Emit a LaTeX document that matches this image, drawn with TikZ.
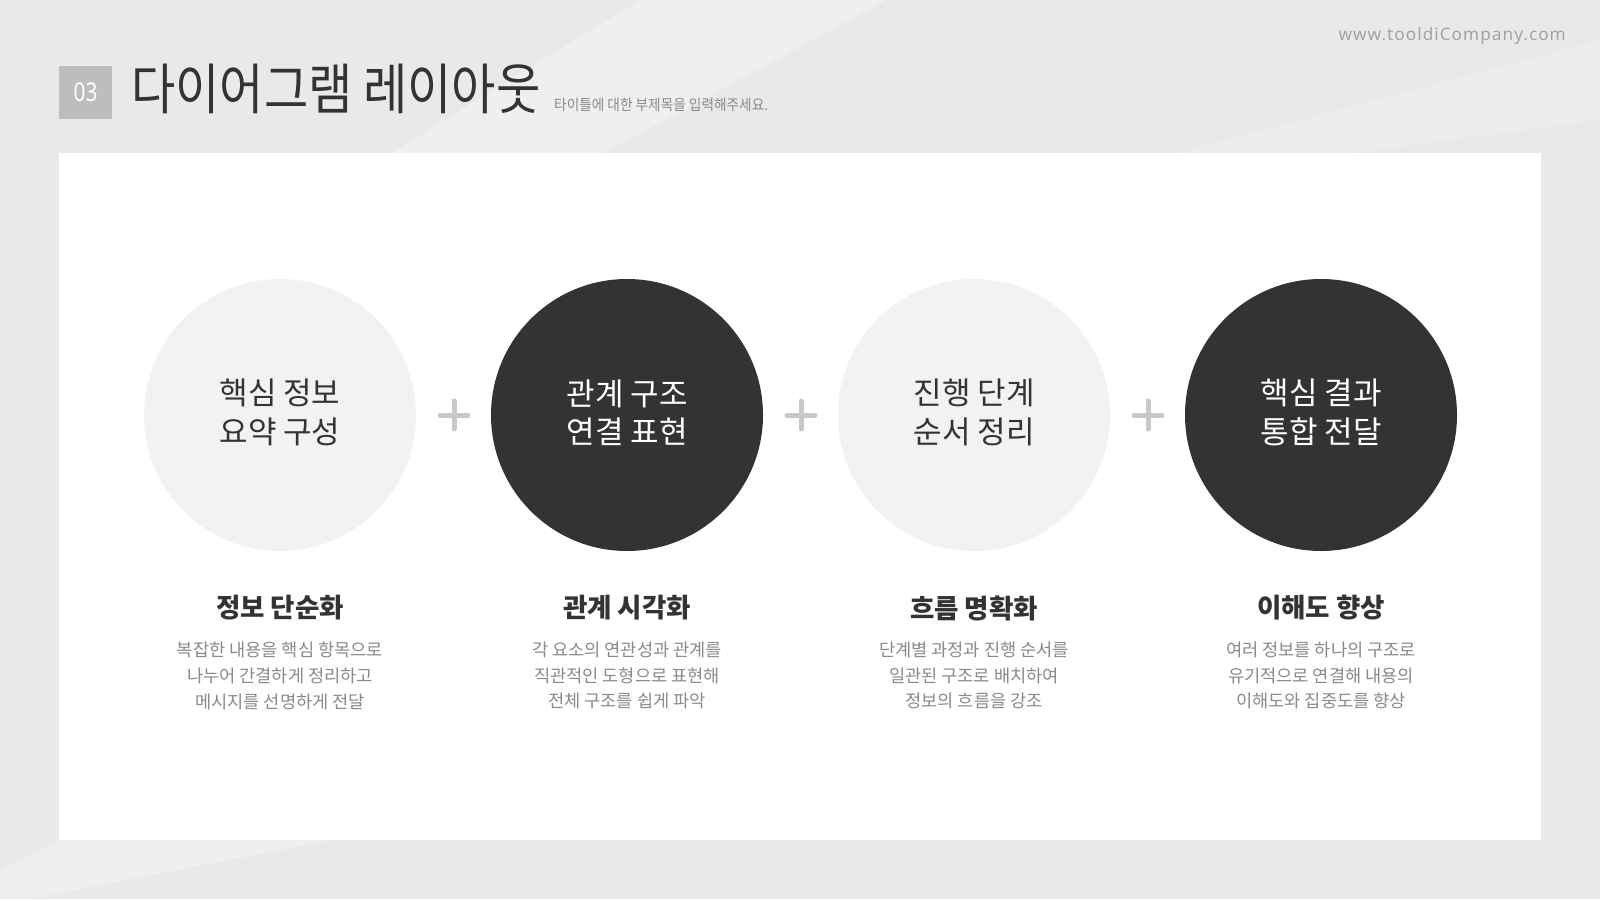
\documentclass[tikz,border=0pt]{standalone}
\usepackage{fontspec}
\newfontfamily\kr{Noto Sans CJK KR}
\newfontfamily\latin{Noto Sans}
\newfontfamily\urlfont{Noto Sans}[LetterSpace=6]
\definecolor{bgc}{HTML}{E9E9E9}
\definecolor{lightc}{HTML}{F2F2F2}
\definecolor{darkc}{HTML}{333333}
\definecolor{plusc}{HTML}{C8C8C8}
\definecolor{descc}{HTML}{8A8A8A}
\definecolor{numbox}{HTML}{BDBDBD}
\definecolor{urlc}{HTML}{A3A3A3}
\begin{document}
\begin{tikzpicture}[x=1pt,y=-1pt,
  lightcirc/.style={circle,fill=lightc,minimum size=272pt,inner sep=0pt},
  darkcirc/.style={circle,fill=darkc,minimum size=272pt,inner sep=0pt},
  circtxt/.style={align=center,inner sep=0pt,yshift=2.5pt,font=\kr\fontsize{31}{38.5}\selectfont},
  headtxt/.style={font=\kr\bfseries\fontsize{26.5}{30}\selectfont,text=darkc,inner sep=0pt},
  desctxt/.style={font=\kr\fontsize{17.6}{25.6}\selectfont,text=descc,align=center,inner sep=0pt},
  plusline/.style={draw=plusc,line width=5pt,line cap=round}]
\useasboundingbox (0,0) rectangle (1600,899);
\fill[bgc] (0,0) rectangle (1600,899);
% subtle light streaks in the background
\fill[white,opacity=0.28] (640,0) -- (886,0) -- (591,160) -- (380,160) -- cycle;
\fill[white,opacity=0.15] (1600,40) -- (1600,120) -- (1300,160) -- (1150,160) -- cycle;
\fill[white,opacity=0.3] (0,899) -- (30,899) -- (330,840) -- (59,840) -- (0,870) -- cycle;
% white panel
\node[fill=white,minimum width=1482pt,minimum height=687pt,inner sep=0pt,anchor=north west] (panel) at (59,153) {};
% header
\node[fill=numbox,minimum width=53pt,minimum height=53pt,inner sep=0pt,text=white,font=\latin\fontsize{26}{30}\selectfont] (num) at (85.5,92.5) {\scalebox{0.8}[1]{03}};
\node[anchor=west,inner sep=0pt,text=darkc,font=\kr\fontsize{55}{60}\selectfont] (title) at (131,89) {\scalebox{0.875}[1]{다이어그램 레이아웃}};
\node[anchor=west,inner sep=0pt,text=descc,font=\kr\fontsize{15}{17}\selectfont] (sub) at (554,105) {\scalebox{0.91}[1]{타이틀에 대한 부제목을 입력해주세요.}};
\node[anchor=east,inner sep=0pt,text=urlc,font=\urlfont\fontsize{17.2}{20}\selectfont] (url) at (1566,36) {www.tooldiCompany.com};
% circles
\node[lightcirc] (c1) at (280,415) {};
\node[darkcirc]  (c2) at (627,415) {};
\node[lightcirc] (c3) at (974,415) {};
\node[darkcirc]  (c4) at (1321,415) {};
\node[circtxt,text=darkc] (c1t) at (c1) {핵심 정보\\요약 구성};
\node[circtxt,text=white] (c2t) at (c2) {관계 구조\\연결 표현};
\node[circtxt,text=darkc] (c3t) at (c3) {진행 단계\\순서 정리};
\node[circtxt,text=white] (c4t) at (c4) {핵심 결과\\통합 전달};
% plus signs
\foreach \p/\x in {p1/454,p2/801,p3/1148}{
  \coordinate (\p) at (\x,415);
  \draw[plusline] ([xshift=-14pt]\p) -- ([xshift=14pt]\p);
  \draw[plusline] ([yshift=-14pt]\p) -- ([yshift=14pt]\p);
}
% headings
\node[headtxt] (h1) at (280,608) {정보 단순화};
\node[headtxt] (h2) at (627,608) {관계 시각화};
\node[headtxt] (h3) at (974,608) {흐름 명확화};
\node[headtxt] (h4) at (1321,608) {이해도 향상};
% descriptions
\node[desctxt,anchor=north] (d1) at (280,642) {복잡한 내용을 핵심 항목으로\\나누어 간결하게 정리하고\\메시지를 선명하게 전달};
\node[desctxt,anchor=north] (d2) at (627,642) {각 요소의 연관성과 관계를\\직관적인 도형으로 표현해\\전체 구조를 쉽게 파악};
\node[desctxt,anchor=north] (d3) at (974,642) {단계별 과정과 진행 순서를\\일관된 구조로 배치하여\\정보의 흐름을 강조};
\node[desctxt,anchor=north] (d4) at (1321,642) {여러 정보를 하나의 구조로\\유기적으로 연결해 내용의\\이해도와 집중도를 향상};
\end{tikzpicture}
\end{document}
